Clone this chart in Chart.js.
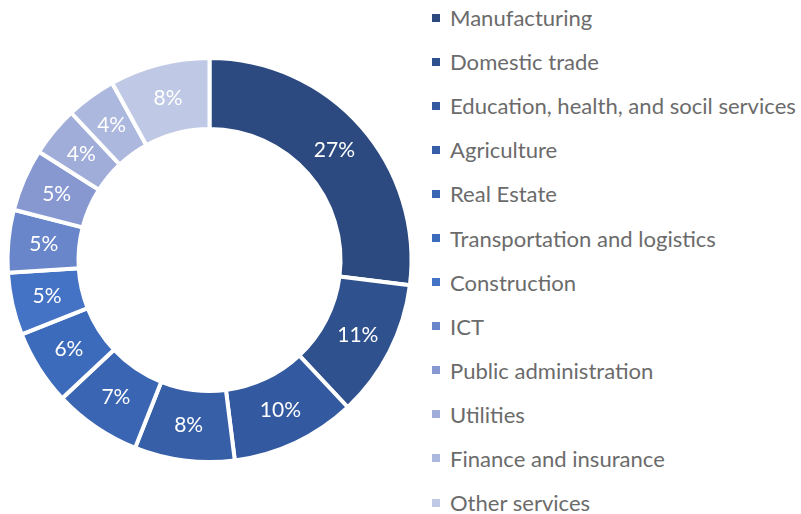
<!DOCTYPE html>
<html>
<head>
<meta charset="utf-8">
<script src="https://cdn.jsdelivr.net/npm/chart.js@4/dist/chart.umd.min.js"></script>
<style>
  html, body { margin: 0; padding: 0; background: #ffffff; }
  body { width: 801px; height: 514px; position: relative; overflow: hidden; }
  #wrap { position: absolute; left: 0; top: 0; width: 419px; height: 520px; }
  #legend { position: absolute; left: 432px; top: -4.5px; margin: 0; padding: 0; list-style: none;
            font-family: Lato, "Open Sans", sans-serif; color: #6b6b6b; }
  #legend li { height: 44.1px; display: flex; align-items: center; white-space: nowrap; }
  #legend .box { width: 8px; height: 8px; margin-right: 10px; flex: none; }
</style>
</head>
<body>
<div id="wrap"><canvas id="c"></canvas></div>
<ul id="legend"></ul>
<script>
const categories = [
  "Manufacturing",
  "Domestic trade",
  "Education, health, and socil services",
  "Agriculture",
  "Real Estate",
  "Transportation and logistics",
  "Construction",
  "ICT",
  "Public administration",
  "Utilities",
  "Finance and insurance",
  "Other services"
];
const shares = [27, 11, 10, 8, 7, 6, 5, 5, 5, 4, 4, 8];
const sliceColors = [
  "#2C4A80", "#2F528F", "#3359A0", "#375FA8", "#3A65B2", "#3D6BBC",
  "#4472C4", "#6A86CA", "#8798D1", "#A1ADD9", "#ADB8DE", "#BFC8E4"
];

// font size fitted so the longest legend label spans like the reference
const FONT = 'Lato';
const mctx = document.createElement('canvas').getContext('2d');
mctx.font = '100px ' + FONT;
const longest = categories.reduce((a, b) => mctx.measureText(b).width > mctx.measureText(a).width ? b : a);
let fontSize = 346 / mctx.measureText(longest).width * 100;
fontSize = Math.max(16, Math.min(23, fontSize));
const labelSize = 21;

const valueLabels = {
  id: 'valueLabels',
  afterDatasetsDraw(chart) {
    const ctx = chart.ctx;
    const meta = chart.getDatasetMeta(0);
    ctx.save();
    ctx.fillStyle = '#ffffff';
    ctx.font = labelSize + 'px ' + FONT;
    ctx.textAlign = 'center';
    ctx.textBaseline = 'middle';
    meta.data.forEach((arc, i) => {
      const p = arc.tooltipPosition();
      ctx.fillText(chart.data.datasets[0].data[i] + '%', p.x, p.y);
    });
    ctx.restore();
  }
};

const chart = new Chart(document.getElementById('c'), {
  type: 'doughnut',
  data: {
    labels: categories,
    datasets: [{
      data: shares,
      backgroundColor: sliceColors,
      borderColor: '#ffffff',
      borderWidth: 4,
      hoverOffset: 0
    }]
  },
  options: {
    responsive: true,
    maintainAspectRatio: false,
    animation: false,
    radius: 202,
    cutout: '64.85%',
    layout: { padding: 0 },
    plugins: {
      legend: { display: false },
      tooltip: { enabled: false }
    }
  },
  plugins: [valueLabels]
});

// HTML legend built from the chart's own legend items
const ul = document.getElementById('legend');
ul.style.fontSize = fontSize.toFixed(2) + 'px';
chart.options.plugins.legend.labels.generateLabels(chart).forEach(item => {
  const li = document.createElement('li');
  const box = document.createElement('span');
  box.className = 'box';
  box.style.background = item.fillStyle;
  const txt = document.createElement('span');
  txt.textContent = item.text;
  li.appendChild(box);
  li.appendChild(txt);
  ul.appendChild(li);
});
</script>
</body>
</html>
